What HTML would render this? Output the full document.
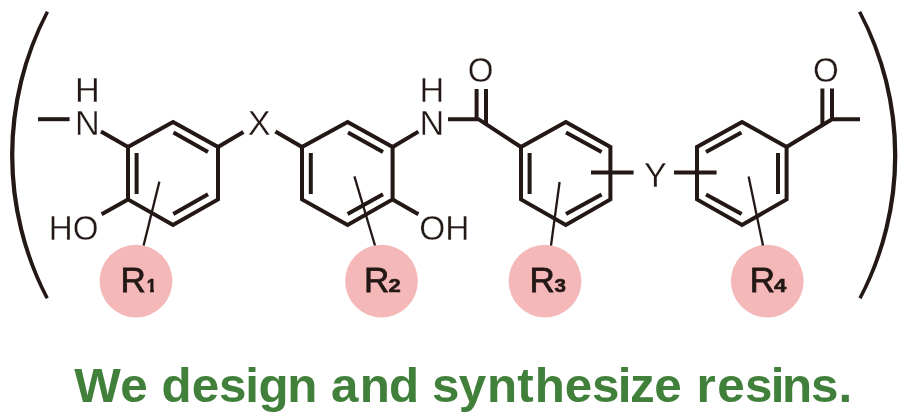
<!DOCTYPE html>
<html><head><meta charset="utf-8">
<style>
html,body{margin:0;padding:0;background:#fff;}
body{width:910px;height:420px;overflow:hidden;position:relative;font-family:"Liberation Sans",sans-serif;}
svg{position:absolute;left:0;top:0;display:block;will-change:transform;}
.b{stroke:#231815;stroke-width:4;fill:none;stroke-linejoin:miter;stroke-linecap:butt;}
.t{stroke:#231815;stroke-width:2.3;fill:none;}
.p{stroke:#231815;stroke-width:4.4;fill:none;}
.a{font-family:"Liberation Sans",sans-serif;font-size:34.3px;fill:#231815;stroke:#fff;stroke-width:0.35;}
.r{font-family:"Liberation Sans",sans-serif;font-size:35px;fill:#231815;stroke:#231815;stroke-width:0.8;}
.s{font-family:"Liberation Sans",sans-serif;font-weight:bold;font-size:18px;fill:#231815;stroke:#231815;stroke-width:0.6;}
.g{font-family:"Liberation Sans",sans-serif;font-weight:bold;font-size:48px;fill:#41803a;}
</style></head><body>
<svg width="910" height="420" viewBox="0 0 910 420">
<!-- parentheses -->
<path fill="#231815" d="M45.85 10.9 A308.7 308.7 0 0 0 45.65 299.1 L48.75 297.5 A311.5 311.5 0 0 1 48.95 12.5 Z"/>
<path fill="#231815" d="M861.15 10.9 A306.4 306.4 0 0 1 861.55 299.1 L858.45 297.5 A309.2 309.2 0 0 0 858.05 12.5 Z"/>
<!-- pink circles -->
<circle cx="136" cy="281.1" r="36.4" fill="#f5b8b9"/>
<circle cx="381.5" cy="281.1" r="36.4" fill="#f5b8b9"/>
<circle cx="545" cy="281.1" r="36.4" fill="#f5b8b9"/>
<circle cx="767.3" cy="281.1" r="36.4" fill="#f5b8b9"/>
<!-- thin lines -->
<path class="t" d="M159.4 181.6 L143.6 245.5"/>
<path class="t" d="M354.4 176.4 L375 245.5"/>
<path class="t" d="M559.6 182 L551 245.5"/>
<path class="t" d="M748.6 176.6 L763 245.5"/>
<!-- ring 1 -->
<path class="b" d="M173 122 L218 147 L218 199.4 L173 225 L128 199.4 L128 147 Z"/>
<path class="b" d="M173.5 132.5 L208 152"/>
<path class="b" d="M208 194.3 L173.3 214"/>
<path class="b" d="M136.6 153 L136.6 194"/>
<!-- left dash, N bond, HO bond -->
<path class="b" d="M38 119.2 L69.6 119.2"/>
<path class="b" d="M101 131.6 L128 147"/>
<path class="b" d="M128 199.4 L101.6 214.2"/>
<!-- X bonds -->
<path class="b" d="M218 147 L243.4 132"/>
<path class="b" d="M275.4 131.6 L302 147"/>
<!-- ring 2 -->
<path class="b" d="M347.6 122 L392.6 147 L392.6 199.4 L347.6 225 L302 199.4 L302 147 Z"/>
<path class="b" d="M310.8 153 L310.8 194"/>
<path class="b" d="M348 132.5 L383 152"/>
<path class="b" d="M383 194.3 L347.6 214.1"/>
<!-- ring 2 to N, OH -->
<path class="b" d="M392.6 147 L418.4 131.6"/>
<path class="b" d="M392.6 199.4 L418.4 214.2"/>
<!-- N-C, C=O, C-ring3 -->
<path class="b" d="M448 119.2 L478.4 119.2 L521 147"/>
<path class="b" d="M476.6 89 L476.6 120"/>
<path class="b" d="M486 89 L486 124"/>
<!-- ring 3 -->
<path class="b" d="M565.8 122 L610.4 147 L610.4 199.4 L565.8 225 L521 199.4 L521 147 Z"/>
<path class="b" d="M529.6 153 L529.6 194"/>
<path class="b" d="M566 132.5 L601.6 152"/>
<path class="b" d="M601.6 194.4 L566 214.1"/>
<!-- Y bonds -->
<path class="b" d="M591 172.4 L633.6 172.4"/>
<path class="b" d="M674 172.4 L716.6 172.4"/>
<!-- ring 4 -->
<path class="b" d="M742 122 L786.6 147 L786.6 199.4 L742 225 L697 199.4 L697 147 Z"/>
<path class="b" d="M778 153 L778 194"/>
<path class="b" d="M706 152 L741.4 132.5"/>
<path class="b" d="M706 194.4 L741.6 214.1"/>
<!-- ring4 - C=O -->
<path class="b" d="M786.6 147 L832 119.2 L860 119.2"/>
<path class="b" d="M822.4 88.5 L822.4 124"/>
<path class="b" d="M832 88.5 L832 120"/>
<!-- atom labels -->
<text class="a" x="87.5" y="101.9" text-anchor="middle">H</text>
<text class="a" x="87.5" y="135" text-anchor="middle">N</text>
<text class="a" x="48.8" y="239.9" textLength="49.8" lengthAdjust="spacingAndGlyphs">HO</text>
<text class="a" x="259.2" y="134.7" text-anchor="middle">X</text>
<text class="a" x="431.8" y="101.9" text-anchor="middle">H</text>
<text class="a" x="431.8" y="134.8" text-anchor="middle">N</text>
<text class="a" x="480.7" y="81.5" text-anchor="middle" textLength="25.8" lengthAdjust="spacingAndGlyphs">O</text>
<text class="a" x="419.2" y="239.9" textLength="50.2" lengthAdjust="spacingAndGlyphs">OH</text>
<text class="a" x="655.5" y="186.7" text-anchor="middle">Y</text>
<text class="a" x="825.9" y="81.5" text-anchor="middle" textLength="25.8" lengthAdjust="spacingAndGlyphs">O</text>
<!-- R labels -->
<defs><clipPath id="c1"><path d="M144 270 H153.9 V294 H150.1 V288.2 H144 Z"/></clipPath></defs>
<text class="r" x="120.4" y="292">R</text><g clip-path="url(#c1)"><text class="s" x="146.8" y="292.3" textLength="9.6" lengthAdjust="spacingAndGlyphs">1</text></g>
<text class="r" x="364" y="292">R</text><text class="s" x="388.5" y="292" textLength="12.2" lengthAdjust="spacingAndGlyphs">2</text>
<text class="r" x="529.4" y="292">R</text><text class="s" x="554.6" y="292" textLength="11.4" lengthAdjust="spacingAndGlyphs">3</text>
<text class="r" x="749.8" y="292">R</text><text class="s" x="773.9" y="292" textLength="12.3" lengthAdjust="spacingAndGlyphs">4</text>
<!-- caption -->
<text class="g" transform="scale(1.027,1)" y="401.8" x="72.2 117.0 144.9 157.3 186.6 213.2 238.7 251.8 279.8 307.7 322.2 350.4 378.8 406.7 420.6 446.7 474.1 503.7 520.7 549.8 576.4 601.4 613.5 637.0 664.8 678.1 698.3 725.3 750.4 761.5 789.6 816.4">We design and synthesize resins.</text>
</svg>
</body></html>
